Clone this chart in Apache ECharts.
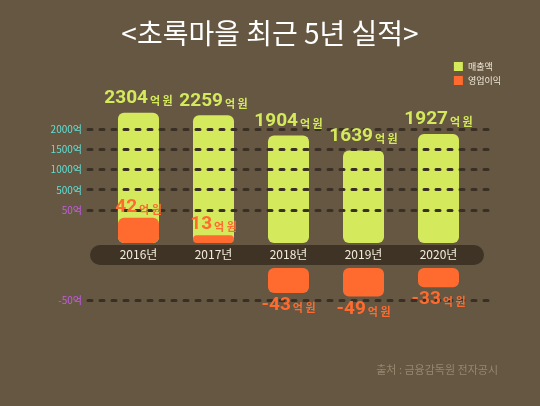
<!DOCTYPE html>
<html>
<head>
<meta charset="UTF-8">
<script src="https://cdn.jsdelivr.net/npm/echarts@6/dist/echarts.min.js"></script>
<style>
  html, body { margin: 0; padding: 0; background: #665742; }
  #chart { width: 540px; height: 406px; }
</style>
</head>
<body>
<div id="chart"></div>
<script>
  // data
  const years = ['2016년', '2017년', '2018년', '2019년', '2020년'];
  const sales = [2304, 2259, 1904, 1639, 1927];
  const profit = [42, 13, -43, -49, -33];
  // decorative guide rows (label, slot on overlay scale)
  const guideLabels = ['-50억', '50억', '500억', '1000억', '1500억', '2000억'];
  const guideSlots = [0, 4.45, 5.45, 6.45, 7.45, 8.45];

  const green = '#d4ea5c', orange = '#ff6b2e';
  const posProfit = profit.map(v => v > 0 ? v : '-');
  const negProfit = profit.map(v => v < 0 ? v : '-');

  const cat = (i, extra) => Object.assign({
    type: 'category', data: years, gridIndex: i,
    axisLine: { show: false }, axisTick: { show: false }, axisLabel: { show: false }
  }, extra || {});
  const val = (i, min, max) => ({ type: 'value', gridIndex: i, min: min, max: max, show: false });

  const labelRich = (c) => ({
    n: { fontFamily: 'Roboto', fontWeight: 'bold', fontSize: 19, color: c, letterSpacing: -1.5 },
    u: { fontFamily: 'Noto Sans CJK KR', fontWeight: 'bold', fontSize: 11, color: c, padding: [5, 0, 0, 2] }
  });

  // bar series: fill drawn below the guide lines, labels drawn above them
  function bars(name, xi, data, color, pos, dist, r) {
    return [{
      name: name, type: 'bar', xAxisIndex: xi, yAxisIndex: xi, data: data, barWidth: 41,
      itemStyle: { color: color, borderRadius: r }, z: 2
    }, {
      type: 'bar', xAxisIndex: xi, yAxisIndex: xi, data: data, barWidth: 41, barGap: '-100%',
      itemStyle: { color: 'transparent' }, z: 10, silent: true,
      label: {
        show: true, position: pos, distance: dist,
        formatter: p => '{n|' + p.value + '}{u|억 원}', rich: labelRich(color)
      }
    }];
  }

  const chart = echarts.init(document.getElementById('chart'));
  chart.setOption({
    backgroundColor: '#665742',
    animation: false,
    title: {
      text: '<초록마을 최근 5년 실적>', left: 'center', top: 14,
      textStyle: { color: '#ffffff', fontSize: 28, fontWeight: 'normal', fontFamily: 'Noto Sans CJK KR' }
    },
    legend: {
      orient: 'vertical', right: 34, top: 57, itemWidth: 9, itemHeight: 9, itemGap: 5,
      icon: 'rect', data: ['매출액', '영업이익'],
      textStyle: { color: '#f0ead8', fontSize: 9, fontFamily: 'Noto Sans CJK KR' }
    },
    graphic: [{
      type: 'rect', shape: { x: 90, y: 245, width: 394, height: 20, r: 10 },
      style: { fill: '#3f3326' }, z: 0
    }, {
      type: 'text', right: 42, top: 364,
      style: { text: '출처 : 금융감독원 전자공시', fill: '#978770', fontSize: 11, fontFamily: 'Noto Sans CJK KR' }
    }],
    grid: [
      { left: 101, right: 64, top: 104, bottom: 163 },   // sales
      { left: 101, right: 64, top: 104, bottom: 163 },   // positive profit
      { left: 101, right: 64, top: 268, bottom: 106 },   // negative profit
      { left: 88, right: 45, top: 129, bottom: 106 }     // guide lines
    ],
    xAxis: [
      cat(0), cat(1),
      cat(2, { position: 'top', axisLabel: { show: true, margin: 8, color: '#f4eedc', fontSize: 12, fontFamily: 'Noto Sans CJK KR' } }),
      { type: 'value', gridIndex: 3, min: 0, max: 1, show: false }
    ],
    yAxis: [
      val(0, 0, 2460), val(1, 0, 232), val(2, -55, 0),
      { type: 'value', gridIndex: 3, min: 0, max: 8.45, show: false }
    ],
    series: [].concat(
      bars('매출액', 0, sales, green, 'top', 5, 6),
      bars('영업이익', 1, posProfit, orange, 'top', 1, 6),
      bars('영업이익', 2, negProfit, orange, 'bottom', 3, 6),
      [{
        type: 'line', xAxisIndex: 3, yAxisIndex: 3, data: [], z: 5, silent: true,
        markLine: {
          symbol: 'none', silent: true,
          lineStyle: { color: '#3a2f24', type: [4, 8], width: 3, cap: 'round' },
          data: guideSlots.map((s, i) => ({
            yAxis: s,
            label: {
              show: true, position: 'start', distance: 6, formatter: guideLabels[i],
              color: (i < 2) ? '#c65ce6' : '#5fe0d6', fontSize: 10, fontFamily: 'Noto Sans CJK KR'
            }
          }))
        }
      }]
    )
  });
</script>
</body>
</html>
